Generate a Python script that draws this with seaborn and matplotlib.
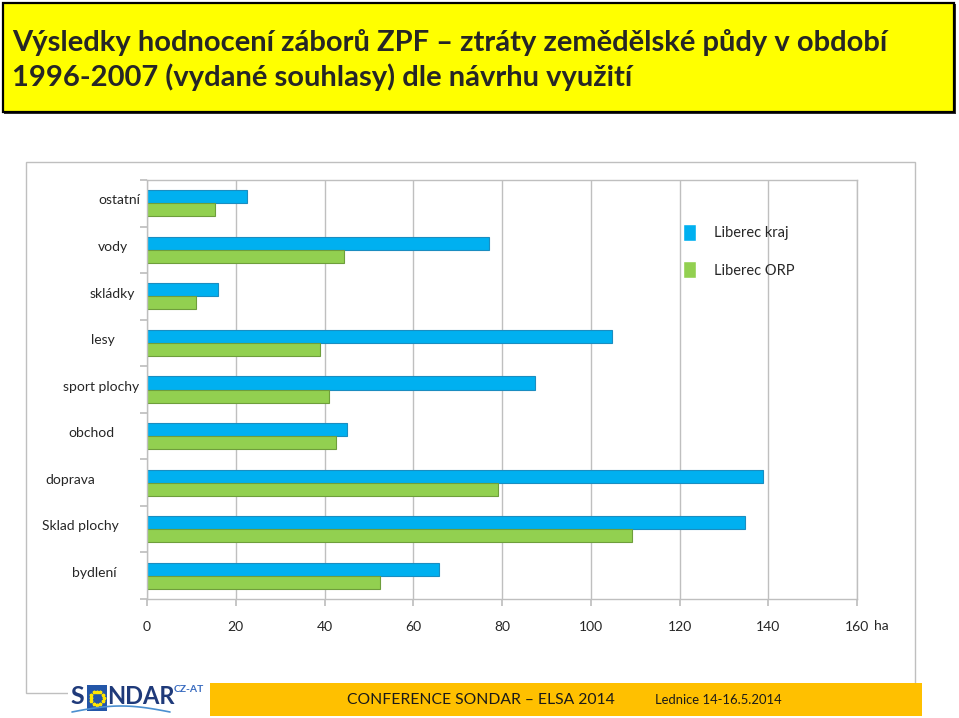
import numpy as np
import pandas as pd
import matplotlib
matplotlib.use("Agg")
import matplotlib.pyplot as plt
import matplotlib.transforms as mtransforms
from matplotlib.patches import Rectangle
import seaborn as sns

# values (ha)
categories = ["ostatní", "vody", "skládky", "lesy", "sport plochy",
              "obchod", "doprava", "Sklad plochy", "bydlení"]
kraj = [22.5, 77.0, 16.0, 104.8, 87.5, 45.1, 138.9, 134.8, 65.8]
orp = [15.3, 44.3, 11.0, 39.0, 41.0, 42.6, 79.1, 109.4, 52.6]
series = ["Liberec kraj", "Liberec ORP"]
xticks = [0, 20, 40, 60, 80, 100, 120, 140, 160]

title_lines = ["Výsledky hodnocení záborů ZPF – ztráty zemědělské půdy v období",
               "1996-2007 (vydané souhlasy) dle návrhu využití"]

# label centres in pixels (the labels in the original are oddly placed)
label_px = [119, 113, 112, 103, 101, 91, 70, 80, 94]

W, H = 959, 718
def fx(px):
    return px / W
def fy(py):
    return 1 - py / H

df = pd.DataFrame({
    "kategorie": categories * 2,
    "ha": kraj + orp,
    "serie": [series[0]] * len(categories) + [series[1]] * len(categories),
})

sns.set_theme(style="white")
plt.rcParams["font.family"] = ["Lato", "DejaVu Sans"]

fig = plt.figure(figsize=(W / 100, H / 100), dpi=100)
grey = "#BFBFBF"

# outer chart frame
fig.patches.append(Rectangle((fx(26), fy(693)), fx(915) - fx(26), fy(162) - fy(693),
                             transform=fig.transFigure, fill=False, ec=grey, lw=1, zorder=0))

ax = fig.add_axes([fx(147), fy(599), fx(857) - fx(147), fy(180) - fy(599)])
sns.barplot(data=df, x="ha", y="kategorie", hue="serie", order=categories,
            hue_order=series, palette=["#00B0F0", "#92D050"], orient="h",
            width=0.56, ax=ax, saturation=1)
for cont, ec in zip(ax.containers, ["#1B8DC0", "#6E9E3C"]):
    for p in cont:
        p.set_edgecolor(ec)
        p.set_linewidth(0.8)

handles, labels = ax.get_legend_handles_labels()
ax.get_legend().remove()

ax.set_xlim(0, 160)
ax.set_ylim(8.5, -0.5)
ax.set_xticks(xticks)
ax.set_xticklabels([str(t) for t in xticks], fontsize=10)
ax.set_yticks(np.arange(-0.5, 9.5, 1))
ax.set_yticklabels([])
ax.set_xlabel("")
ax.set_ylabel("")
ax.grid(axis="x", color=grey, lw=1)
ax.set_axisbelow(True)
for s in ax.spines.values():
    s.set_color(grey)
    s.set_linewidth(1)
ax.tick_params(axis="x", length=5, color=grey, pad=11, bottom=True)
ax.tick_params(axis="y", length=5, color=grey, left=True)
ax.annotate("ha", xy=(1, 0), xycoords="axes fraction", xytext=(12, -19.5),
            textcoords="offset points", fontsize=10, ha="left", va="center")

trans = mtransforms.blended_transform_factory(fig.transFigure, ax.transData)
for i, (cat, px) in enumerate(zip(categories, label_px)):
    ax.text(fx(px), i - 0.06, cat, transform=trans, ha="center", va="center", fontsize=10)

ax.legend(handles, labels, loc="upper left", bbox_to_anchor=(fx(670), fy(211)),
          bbox_transform=fig.transFigure, frameon=False, fontsize=10.5,
          handlelength=0.9, handleheight=1.4, labelspacing=1.4, handletextpad=1.2)

# title box
fig.patches.append(Rectangle((fx(4), fy(114)), fx(956) - fx(4), fy(4) - fy(114),
                             transform=fig.transFigure, fc="#303030", ec="none", zorder=1))
fig.patches.append(Rectangle((fx(3), fy(112)), fx(954) - fx(3), fy(3) - fy(112),
                             transform=fig.transFigure, fc="#FFFF00", ec="black", lw=1.6, zorder=2))
fig.text(fx(12), fy(51), title_lines[0], fontsize=21, fontweight="bold", va="baseline", zorder=3)
fig.text(fx(12), fy(86), title_lines[1], fontsize=21, fontweight="bold", va="baseline", zorder=3)

# footer
fig.patches.append(Rectangle((fx(68), 0), fx(210) - fx(68), fy(680),
                             transform=fig.transFigure, fc="white", ec="none", zorder=1))
fig.patches.append(Rectangle((fx(210), fy(716)), fx(922) - fx(210), fy(683) - fy(716),
                             transform=fig.transFigure, fc="#FFC000", ec="none", zorder=1))
fig.text(fx(347), fy(700), "CONFERENCE SONDAR – ELSA 2014", fontsize=11.3, va="center", color="#1a1a1a")
fig.text(fx(655), fy(700), "Lednice 14-16.5.2014", fontsize=9.4, va="center", color="#1a1a1a")

# SONDAR logo
navy = "#1F3A7A"
fig.text(fx(70), fy(697), "S", fontsize=18, fontweight="bold", color=navy, va="center")
fig.patches.append(Rectangle((fx(87), fy(711)), fx(20), fy(685) - fy(711),
                             transform=fig.transFigure, fc="#2356A8", ec="none", zorder=2))
ang = np.linspace(0, 2 * np.pi, 12, endpoint=False)
fig.add_artist(plt.Line2D(fx(97) + np.cos(ang) * fx(6.5), fy(698) + np.sin(ang) * (6.5 / H),
                          transform=fig.transFigure, ls="none", marker="*", ms=2.5,
                          color="#FFE600", zorder=3))
fig.text(fx(107), fy(697), "NDAR", fontsize=17, fontweight="bold", color=navy, va="center")
fig.text(fx(174), fy(689), "CZ-AT", fontsize=7.5, fontweight="bold", color="#3A6CC0", va="center")
xs = np.linspace(72, 170, 30)
fig.add_artist(plt.Line2D(fx(xs), fy(712 - 6 * np.sin((xs - 72) / 98 * np.pi)),
                          transform=fig.transFigure, color="#4A8FD0", lw=1.2, zorder=3))

fig.savefig("out.png", dpi=100)
